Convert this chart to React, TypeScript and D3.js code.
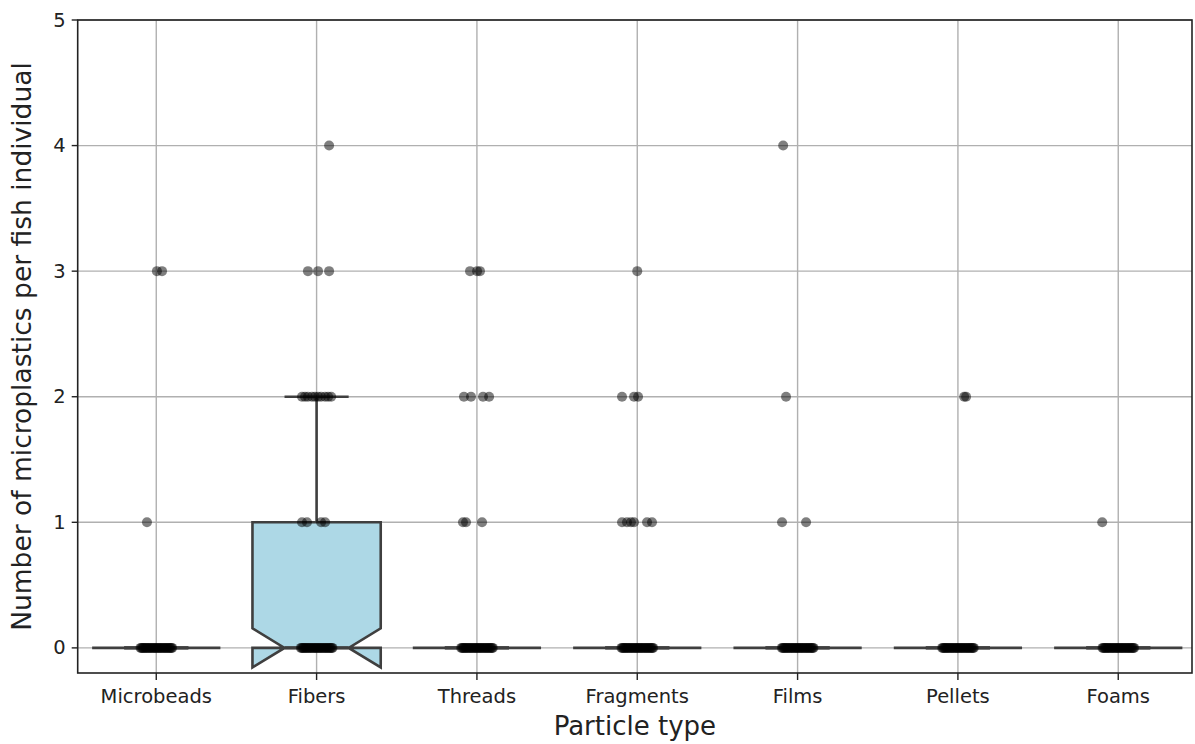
import React from "react";
import * as d3 from "d3";

// categories on the x axis
const categories = ["Microbeads", "Fibers", "Threads", "Fragments", "Films", "Pellets", "Foams"];
const yTicks = [0, 1, 2, 3, 4, 5];

// box statistics per category (only Fibers has a non-degenerate box)
const q1 = [0, 0, 0, 0, 0, 0, 0];
const q3 = [0, 1, 0, 0, 0, 0, 0];
const medians = [0, 0, 0, 0, 0, 0, 0];
const whiskerHi = [0, 2, 0, 0, 0, 0, 0];
const whiskerLo = [0, 0, 0, 0, 0, 0, 0];
const notchHalf = [0, 0.156, 0, 0, 0, 0, 0];

const microbeadsVals = [3, 3, 1];
const microbeadsJit = [0.004, 0.036, -0.058];
const fibersVals = [4, 3, 3, 3, 2, 2, 2, 2, 2, 2, 2, 2, 2, 2, 1, 1, 1, 1];
const fibersJit = [0.078, -0.054, 0.009, 0.078, -0.091, -0.072, -0.054, -0.029, -0.01, 0.009, 0.028, 0.053, 0.072, 0.091, -0.091, -0.06, 0.028, 0.053];
const threadsVals = [3, 3, 3, 2, 2, 2, 2, 1, 1, 1];
const threadsJit = [-0.043, 0.001, 0.019, -0.081, -0.037, 0.038, 0.076, -0.087, -0.068, 0.032];
const fragmentsVals = [3, 2, 2, 2, 1, 1, 1, 1, 1, 1];
const fragmentsJit = [0, -0.095, -0.02, 0.005, -0.095, -0.064, -0.039, -0.02, 0.061, 0.092];
const filmsVals = [4, 2, 1, 1];
const filmsJit = [-0.09, -0.072, -0.097, 0.053];
const pelletsVals = [2, 2];
const pelletsJit = [0.039, 0.051];
const foamsVals = [1];
const foamsJit = [-0.1];

// jitter of the many zero counts in every category
const zeroJit = [-0.098, -0.092, -0.085, -0.079, -0.071, -0.064, -0.058, -0.049, -0.041, -0.035, -0.027, -0.018, -0.011, -0.004, 0.003, 0.012, 0.019, 0.026, 0.034, 0.042, 0.05, 0.057, 0.065, 0.072, 0.08, 0.087, 0.094, 0.099];

const nonZeroVals = [microbeadsVals, fibersVals, threadsVals, fragmentsVals, filmsVals, pelletsVals, foamsVals];
const nonZeroJit = [microbeadsJit, fibersJit, threadsJit, fragmentsJit, filmsJit, pelletsJit, foamsJit];

const W = 1195;
const H = 744;
const left = 77.7;
const right = 1192;
const top = 20;
const bottom = 673;

const FONT = "DejaVu Sans, sans-serif";
const BOX_LINE = "#3f3f3f";

export default function App() {
  const x = d3.scaleLinear().domain([-0.49, 6.46]).range([left, right]);
  const y = d3.scaleLinear().domain([-0.2, 5]).range([bottom, top]);
  const boxW = (x(1) - x(0)) * 0.8;

  const points: { cx: number; cy: number }[] = [];
  categories.forEach((_, i) => {
    zeroJit.forEach((j) => points.push({ cx: x(i + j), cy: y(0) }));
    nonZeroVals[i].forEach((v, k) => points.push({ cx: x(i + nonZeroJit[i][k]), cy: y(v) }));
  });

  // notched box outline, matplotlib style
  const boxPath = (i: number) => {
    const cx = x(i);
    const l = cx - boxW / 2;
    const r = cx + boxW / 2;
    const nl = cx - boxW / 4;
    const nr = cx + boxW / 4;
    const med = medians[i];
    const p = d3.path();
    p.moveTo(l, y(q1[i]));
    p.lineTo(r, y(q1[i]));
    p.lineTo(r, y(med - notchHalf[i]));
    p.lineTo(nr, y(med));
    p.lineTo(r, y(med + notchHalf[i]));
    p.lineTo(r, y(q3[i]));
    p.lineTo(l, y(q3[i]));
    p.lineTo(l, y(med + notchHalf[i]));
    p.lineTo(nl, y(med));
    p.lineTo(l, y(med - notchHalf[i]));
    p.closePath();
    return p.toString();
  };

  return (
    <svg width={W} height={H} style={{ position: "absolute", left: 0, top: 0, background: "#fff" }}>
      {/* grid */}
      <g stroke="#b0b0b0" strokeWidth={1.4}>
        {categories.map((c, i) => (
          <line key={c} x1={x(i)} x2={x(i)} y1={top} y2={bottom} />
        ))}
        {yTicks.map((t) => (
          <line key={t} x1={left} x2={right} y1={y(t)} y2={y(t)} />
        ))}
      </g>

      {/* boxes */}
      {categories.map((c, i) => {
        const cx = x(i);
        const capL = cx - boxW / 4;
        const capR = cx + boxW / 4;
        return (
          <g key={c} stroke={BOX_LINE} strokeWidth={2.6} strokeLinejoin="miter">
            <path d={boxPath(i)} fill="#add8e6" />
            <line x1={cx} x2={cx} y1={y(q3[i])} y2={y(whiskerHi[i])} />
            <line x1={cx} x2={cx} y1={y(q1[i])} y2={y(whiskerLo[i])} />
            <line x1={capL} x2={capR} y1={y(whiskerHi[i])} y2={y(whiskerHi[i])} />
            <line x1={capL} x2={capR} y1={y(whiskerLo[i])} y2={y(whiskerLo[i])} />
            <line x1={capL} x2={capR} y1={y(medians[i])} y2={y(medians[i])} />
          </g>
        );
      })}

      {/* strip points */}
      <g fill="#000" fillOpacity={0.5}>
        {points.map((p, k) => (
          <circle key={k} cx={p.cx} cy={p.cy} r={5} />
        ))}
      </g>

      {/* spines */}
      <rect x={left} y={top} width={right - left} height={bottom - top} fill="none" stroke="#222" strokeWidth={1.6} />

      {/* ticks */}
      <g fontFamily={FONT} fontSize={19.5} fill="#222">
        {yTicks.map((t) => (
          <g key={t}>
            <line x1={left - 6} x2={left} y1={y(t)} y2={y(t)} stroke="#222" strokeWidth={1.4} />
            <text x={left - 12} y={y(t)} textAnchor="end" dominantBaseline="central">
              {t}
            </text>
          </g>
        ))}
        {categories.map((c, i) => (
          <g key={c}>
            <line x1={x(i)} x2={x(i)} y1={bottom} y2={bottom + 7} stroke="#222" strokeWidth={1.4} />
            <text x={x(i)} y={703} textAnchor="middle">
              {c}
            </text>
          </g>
        ))}
      </g>

      {/* axis labels */}
      <text x={(left + right) / 2} y={735} textAnchor="middle" fontFamily={FONT} fontSize={26} fill="#222">
        Particle type
      </text>
      <text
        transform={`translate(31,${(top + bottom) / 2}) rotate(-90)`}
        textAnchor="middle"
        fontFamily={FONT}
        fontSize={26.5}
        fill="#222"
      >
        Number of microplastics per fish individual
      </text>
    </svg>
  );
}
